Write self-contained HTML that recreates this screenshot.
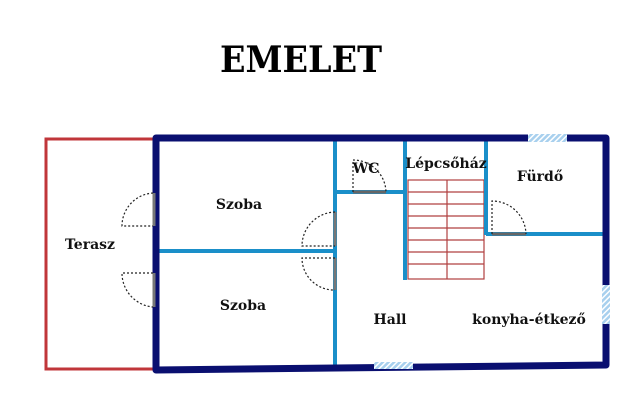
<!DOCTYPE html>
<html><head><style>html,body{margin:0;padding:0;background:#fff}svg{display:block}</style></head>
<body>
<svg width="640" height="410" viewBox="0 0 640 410" xmlns="http://www.w3.org/2000/svg" font-family="DejaVu Serif, Liberation Serif, serif" font-weight="bold">
<defs>
<pattern id="h" width="4" height="4" patternUnits="userSpaceOnUse" patternTransform="rotate(45)">
<rect width="4" height="4" fill="#a8d0ee"/><rect width="1.5" height="4" fill="#fff"/>
</pattern>
</defs>
<text x="301" y="72" font-size="36" text-anchor="middle" textLength="162" lengthAdjust="spacingAndGlyphs">EMELET</text>
<!-- terrace -->
<polyline points="153,139 46,139 46,369 153,369" fill="none" stroke="#c0363a" stroke-width="3"/>
<!-- stairs -->
<g stroke="#b04040" stroke-width="1.2" fill="none">
<rect x="408" y="180" width="76" height="99"/>
<line x1="447" y1="180" x2="447" y2="279"/>
<line x1="408" y1="192" x2="484" y2="192"/><line x1="408" y1="204" x2="484" y2="204"/>
<line x1="408" y1="216" x2="484" y2="216"/><line x1="408" y1="228" x2="484" y2="228"/>
<line x1="408" y1="240" x2="484" y2="240"/><line x1="408" y1="252" x2="484" y2="252"/>
<line x1="408" y1="264" x2="484" y2="264"/>
</g>
<!-- inner walls -->
<g stroke="#1a8fc9" stroke-width="4" fill="none">
<line x1="335" y1="138" x2="335" y2="366"/>
<line x1="158" y1="251" x2="335" y2="251"/>
<line x1="335" y1="192" x2="405" y2="192"/>
<line x1="405" y1="138" x2="405" y2="280"/>
<line x1="486" y1="138" x2="486" y2="235"/>
<line x1="486" y1="234" x2="604" y2="234"/>
</g>
<!-- outer walls -->
<path d="M156,138 L606,138 L606,365 L156,370 Z" fill="none" stroke="#0a0f70" stroke-width="7" stroke-linejoin="round"/>
<!-- windows -->
<rect x="528" y="134" width="39" height="8" fill="url(#h)"/>
<rect x="602" y="285" width="8" height="39" fill="url(#h)"/>
<rect x="374" y="362" width="39" height="7" fill="url(#h)"/>
<!-- doors -->
<g fill="none">
<line x1="154" y1="193" x2="154" y2="226" stroke="#777" stroke-width="3"/>
<line x1="154" y1="273" x2="154" y2="307" stroke="#777" stroke-width="3"/>
<line x1="335" y1="212" x2="335" y2="246" stroke="#777" stroke-width="3"/>
<line x1="335" y1="258" x2="335" y2="290" stroke="#777" stroke-width="3"/>
<line x1="353" y1="192" x2="386" y2="192" stroke="#666" stroke-width="3"/>
<line x1="492" y1="234" x2="526" y2="234" stroke="#666" stroke-width="3"/>
<g stroke="#222" stroke-width="1.2" stroke-dasharray="2,2">
<path d="M153,193 A33,33 0 0 0 122,226 L153,226"/>
<path d="M153,273 L122,273 A34,34 0 0 0 153,307"/>
<path d="M335,212 A34,34 0 0 0 302,246 L335,246"/>
<path d="M335,258 L302,258 A32,32 0 0 0 335,290"/>
<path d="M353,192 L353,160 A33,33 0 0 1 386,192"/>
<path d="M492,234 L492,201 A34,34 0 0 1 526,234"/>
</g>
</g>
<!-- labels -->
<g font-size="14" text-anchor="middle" fill="#111">
<text x="90" y="249">Terasz</text>
<text x="239" y="209">Szoba</text>
<text x="243" y="310">Szoba</text>
<text x="366" y="173">WC</text>
<text x="446" y="168">Lépcsőház</text>
<text x="540" y="181">Fürdő</text>
<text x="390" y="324">Hall</text>
<text x="529" y="324">konyha-étkező</text>
</g>
</svg>
</body></html>
